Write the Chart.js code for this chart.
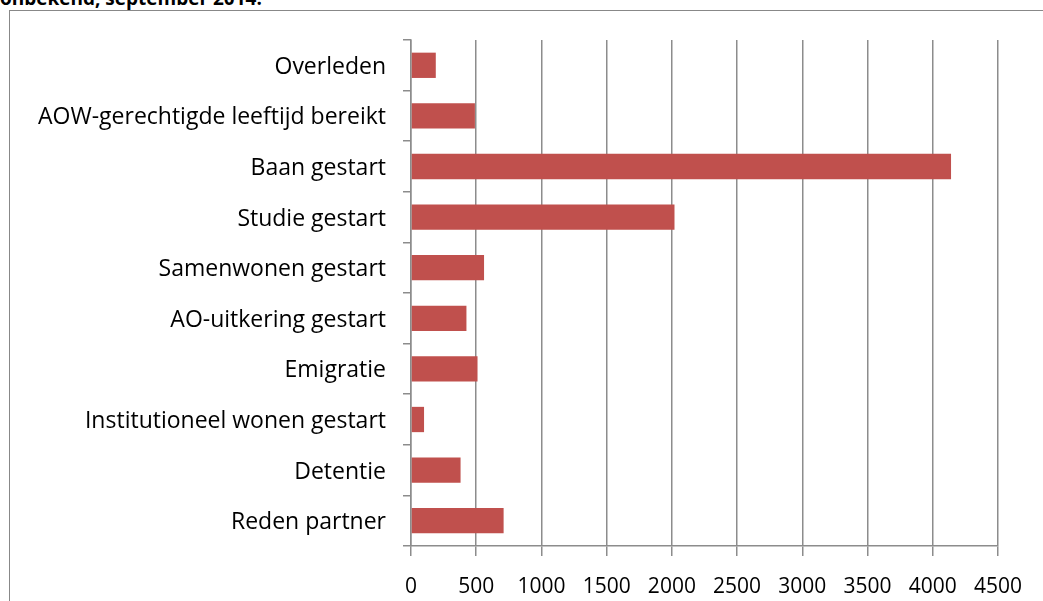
<!DOCTYPE html>
<html>
<head>
<meta charset="utf-8">
<script src="https://cdn.jsdelivr.net/npm/chart.js@4/dist/chart.umd.min.js"></script>
<style>
  html, body { margin: 0; padding: 0; background: #fff; overflow: hidden; }
  #title { position: absolute; left: 0; top: -15px; font: bold 19px "Open Sans", sans-serif; color: #000; white-space: nowrap; }
  #frame { position: absolute; left: 9px; top: 10px; width: 1100px; height: 700px; border: 1px solid #888; box-sizing: border-box; }
  #c { position: absolute; left: 0; top: 0; }
</style>
</head>
<body>
<div id="title">onbekend, september 2014.</div>
<div id="frame"></div>
<canvas id="c" width="1043" height="601"></canvas>
<script>
// redenen van uitstroom
const categories = [
  "Overleden",
  "AOW-gerechtigde leeftijd bereikt",
  "Baan gestart",
  "Studie gestart",
  "Samenwonen gestart",
  "AO-uitkering gestart",
  "Emigratie",
  "Institutioneel wonen gestart",
  "Detentie",
  "Reden partner"
];
const values = [190, 490, 4140, 2020, 560, 425, 510, 100, 380, 710];
const xTicks = [0, 500, 1000, 1500, 2000, 2500, 3000, 3500, 4000, 4500];

const xFont = { family: "'Open Sans', sans-serif", size: 21 };
const yFont = { family: "'Open Sans', sans-serif", size: 23 };

new Chart(document.getElementById("c").getContext("2d"), {
  type: "bar",
  data: {
    labels: categories,
    datasets: [{
      data: values,
      backgroundColor: "#C0504D",
      borderWidth: 0,
      barPercentage: 0.5,
      categoryPercentage: 1
    }]
  },
  options: {
    indexAxis: "y",
    responsive: false,
    animation: false,
    layout: { padding: { left: 0, top: 40, right: 45, bottom: 0 } },
    plugins: { legend: { display: false }, tooltip: { enabled: false } },
    scales: {
      x: {
        min: 0,
        max: 4500,
        afterBuildTicks: (s) => { s.ticks = xTicks.map(v => ({ value: v })); },
        afterFit: (s) => { s.height = 55; },
        grid: { color: "#8c8c8c", lineWidth: 1.5, tickLength: 10, drawOnChartArea: true },
        border: { color: "#8c8c8c", width: 1.5 },
        ticks: { color: "#000", font: xFont, padding: 18, maxRotation: 0, autoSkip: false, callback: (v) => String(v) }
      },
      y: {
        afterFit: (s) => { s.width = 411; },
        grid: { offset: true, drawOnChartArea: false, color: "#8c8c8c", lineWidth: 1.5, tickLength: 8 },
        border: { color: "#8c8c8c", width: 1.5 },
        ticks: { color: "#000", font: yFont, padding: 17, autoSkip: false, labelOffset: 2 }
      }
    }
  }
});
</script>
</body>
</html>
